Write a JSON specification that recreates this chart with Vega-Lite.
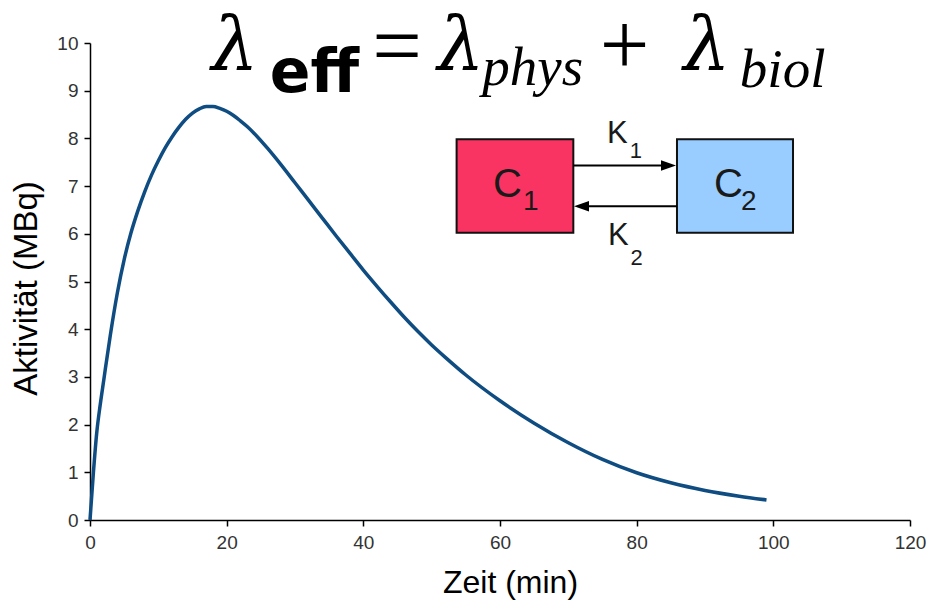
{
  "$schema": "https://vega.github.io/schema/vega-lite/v6.json",
  "width": 820,
  "height": 477,
  "autosize": {"type": "none"},
  "padding": {"left": 90, "top": 43, "right": 18, "bottom": 83},
  "background": "white",
  "config": {
    "view": {"stroke": null},
    "axis": {
      "grid": false,
      "domainColor": "#000000",
      "domainWidth": 1.5,
      "tickColor": "#000000",
      "tickWidth": 1.5,
      "tickSize": 6,
      "labelFont": "Liberation Sans",
      "labelFontSize": 19,
      "labelColor": "#333333",
      "labelFlush": false,
      "titleFont": "Liberation Sans",
      "titleFontWeight": "normal",
      "titleColor": "#000000"
    }
  },
  "datasets": {
    "curve": [
      {"t": 0, "v": 0},
      {"t": 0.5, "v": 1.0},
      {"t": 1, "v": 1.85},
      {"t": 1.5, "v": 2.42},
      {"t": 2, "v": 2.92},
      {"t": 3, "v": 3.9},
      {"t": 4, "v": 4.76},
      {"t": 5, "v": 5.46},
      {"t": 6, "v": 6.02},
      {"t": 7, "v": 6.48},
      {"t": 8, "v": 6.88},
      {"t": 9, "v": 7.23},
      {"t": 10, "v": 7.53},
      {"t": 11, "v": 7.8},
      {"t": 12, "v": 8.03},
      {"t": 13, "v": 8.23},
      {"t": 14, "v": 8.4},
      {"t": 15, "v": 8.53},
      {"t": 16, "v": 8.62},
      {"t": 17, "v": 8.67},
      {"t": 18, "v": 8.67},
      {"t": 19, "v": 8.63},
      {"t": 20, "v": 8.57},
      {"t": 21, "v": 8.48},
      {"t": 22, "v": 8.37},
      {"t": 23, "v": 8.25},
      {"t": 24, "v": 8.11},
      {"t": 26, "v": 7.79},
      {"t": 28, "v": 7.44},
      {"t": 30, "v": 7.07},
      {"t": 32, "v": 6.7},
      {"t": 34, "v": 6.33},
      {"t": 36, "v": 5.96},
      {"t": 38, "v": 5.6},
      {"t": 40, "v": 5.24},
      {"t": 42, "v": 4.9},
      {"t": 44, "v": 4.57},
      {"t": 46, "v": 4.25},
      {"t": 48, "v": 3.95},
      {"t": 50, "v": 3.67},
      {"t": 52, "v": 3.41},
      {"t": 55, "v": 3.04},
      {"t": 60, "v": 2.5},
      {"t": 65, "v": 2.03},
      {"t": 70, "v": 1.62},
      {"t": 75, "v": 1.27},
      {"t": 80, "v": 0.99},
      {"t": 85, "v": 0.78},
      {"t": 90, "v": 0.62},
      {"t": 95, "v": 0.5},
      {"t": 99, "v": 0.42}
    ],
    "boxes": [
      {"name": "C1", "t0": 53.65, "t1": 70.73, "v0": 6.02, "v1": 7.98},
      {"name": "C2", "t0": 85.9, "t1": 102.88, "v0": 6.02, "v1": 7.98}
    ],
    "arrows": [
      {"name": "K1", "t0": 70.73, "t1": 84.0, "v": 7.43},
      {"name": "K2", "t0": 72.5, "t1": 85.9, "v": 6.58}
    ],
    "heads": [
      {"dir": "right", "t": 84.66, "v": 7.43},
      {"dir": "left", "t": 71.93, "v": 6.58}
    ],
    "labels": [
      {"role": "lambda", "text": "λ", "t": 21.2, "v": 9.43},
      {"role": "lambda", "text": "λ", "t": 54.3, "v": 9.43},
      {"role": "lambda", "text": "λ", "t": 90.3, "v": 9.43},
      {"role": "eff", "text": "eff", "t": 26.3, "v": 8.97},
      {"role": "op", "text": "=", "t": 41.3, "v": 9.87},
      {"role": "op", "text": "+", "t": 74.6, "v": 9.9},
      {"role": "italicsub", "text": "phys", "t": 57.4, "v": 9.12},
      {"role": "italicsub", "text": "biol", "t": 95.1, "v": 9.08},
      {"role": "C", "text": "C", "t": 58.97, "v": 6.77},
      {"role": "C", "text": "C", "t": 91.3, "v": 6.77},
      {"role": "Csub", "text": "1", "t": 64.5, "v": 6.5},
      {"role": "Csub", "text": "2", "t": 96.4, "v": 6.5},
      {"role": "K", "text": "K", "t": 75.66, "v": 7.9},
      {"role": "K", "text": "K", "t": 75.8, "v": 5.77},
      {"role": "Ksub", "text": "1", "t": 79.9, "v": 7.59},
      {"role": "Ksub", "text": "2", "t": 80.0, "v": 5.35}
    ]
  },
  "layer": [
    {
      "data": {"name": "curve"},
      "mark": {"type": "line", "color": "#0F4C81", "strokeWidth": 3.5, "interpolate": "monotone"},
      "encoding": {
        "x": {"field": "t", "type": "quantitative", "scale": {"domain": [0, 120], "nice": false},
          "axis": {"values": [0, 20, 40, 60, 80, 100, 120], "title": "Zeit (min)", "titleFontSize": 32, "labelFontSize": 19, "labelPadding": 7, "titleX": 420, "titleY": 72, "titleBaseline": "alphabetic", "titleAnchor": null}},
        "y": {"field": "v", "type": "quantitative", "scale": {"domain": [0, 10], "nice": false},
          "axis": {"values": [0, 1, 2, 3, 4, 5, 6, 7, 8, 9, 10], "title": "Aktivität (MBq)", "titleFontSize": 33, "labelFontSize": 19, "labelPadding": 6, "titleX": -54, "titleY": 245, "titleBaseline": "alphabetic", "titleAngle": -90}}
      }
    },
    {
      "data": {"name": "boxes"},
      "mark": {"type": "rect", "stroke": "#111111", "strokeWidth": 2},
      "encoding": {
        "x": {"field": "t0", "type": "quantitative"},
        "x2": {"field": "t1"},
        "y": {"field": "v0", "type": "quantitative"},
        "y2": {"field": "v1"},
        "fill": {"field": "name", "type": "nominal", "scale": {"domain": ["C1", "C2"], "range": ["#FA3462", "#99CCFF"]}, "legend": null}
      }
    },
    {
      "data": {"name": "arrows"},
      "mark": {"type": "rule", "color": "#000000", "strokeWidth": 2},
      "encoding": {
        "x": {"field": "t0", "type": "quantitative"},
        "x2": {"field": "t1"},
        "y": {"field": "v", "type": "quantitative"}
      }
    },
    {
      "data": {"name": "heads"},
      "transform": [{"filter": "datum.dir === 'right'"}],
      "mark": {"type": "point", "shape": "M 1 0 L -1 -0.7 L -1 0.7 Z", "size": 225, "filled": true, "color": "#000000", "opacity": 1},
      "encoding": {
        "x": {"field": "t", "type": "quantitative"},
        "y": {"field": "v", "type": "quantitative"}
      }
    },
    {
      "data": {"name": "heads"},
      "transform": [{"filter": "datum.dir === 'left'"}],
      "mark": {"type": "point", "shape": "M -1 0 L 1 -0.7 L 1 0.7 Z", "size": 225, "filled": true, "color": "#000000", "opacity": 1},
      "encoding": {
        "x": {"field": "t", "type": "quantitative"},
        "y": {"field": "v", "type": "quantitative"}
      }
    },
    {
      "data": {"name": "labels"},
      "transform": [{"filter": "datum.role === 'lambda'"}],
      "mark": {"type": "text", "font": "DejaVu Serif", "fontStyle": "italic", "fontSize": 74, "align": "center", "baseline": "alphabetic", "color": "#000000"},
      "encoding": {"x": {"field": "t", "type": "quantitative"}, "y": {"field": "v", "type": "quantitative"}, "text": {"field": "text"}}
    },
    {
      "data": {"name": "labels"},
      "transform": [{"filter": "datum.role === 'eff'"}],
      "mark": {"type": "text", "font": "DejaVu Sans", "fontWeight": "bold", "fontSize": 60, "align": "left", "baseline": "alphabetic", "color": "#000000"},
      "encoding": {"x": {"field": "t", "type": "quantitative"}, "y": {"field": "v", "type": "quantitative"}, "text": {"field": "text"}}
    },
    {
      "data": {"name": "labels"},
      "transform": [{"filter": "datum.role === 'op'"}],
      "mark": {"type": "text", "font": "Liberation Serif", "fontSize": 88, "align": "left", "baseline": "middle", "color": "#000000"},
      "encoding": {"x": {"field": "t", "type": "quantitative"}, "y": {"field": "v", "type": "quantitative"}, "text": {"field": "text"}}
    },
    {
      "data": {"name": "labels"},
      "transform": [{"filter": "datum.role === 'italicsub'"}],
      "mark": {"type": "text", "font": "Liberation Serif", "fontStyle": "italic", "fontSize": 55, "align": "left", "baseline": "alphabetic", "color": "#000000"},
      "encoding": {"x": {"field": "t", "type": "quantitative"}, "y": {"field": "v", "type": "quantitative"}, "text": {"field": "text"}}
    },
    {
      "data": {"name": "labels"},
      "transform": [{"filter": "datum.role === 'C'"}],
      "mark": {"type": "text", "font": "Liberation Sans", "fontSize": 40, "align": "left", "baseline": "alphabetic", "color": "#1a1a1a"},
      "encoding": {"x": {"field": "t", "type": "quantitative"}, "y": {"field": "v", "type": "quantitative"}, "text": {"field": "text"}}
    },
    {
      "data": {"name": "labels"},
      "transform": [{"filter": "datum.role === 'Csub'"}],
      "mark": {"type": "text", "font": "Liberation Sans", "fontSize": 28, "align": "center", "baseline": "alphabetic", "color": "#1a1a1a"},
      "encoding": {"x": {"field": "t", "type": "quantitative"}, "y": {"field": "v", "type": "quantitative"}, "text": {"field": "text"}}
    },
    {
      "data": {"name": "labels"},
      "transform": [{"filter": "datum.role === 'K'"}],
      "mark": {"type": "text", "font": "Liberation Sans", "fontSize": 31, "align": "left", "baseline": "alphabetic", "color": "#1a1a1a"},
      "encoding": {"x": {"field": "t", "type": "quantitative"}, "y": {"field": "v", "type": "quantitative"}, "text": {"field": "text"}}
    },
    {
      "data": {"name": "labels"},
      "transform": [{"filter": "datum.role === 'Ksub'"}],
      "mark": {"type": "text", "font": "Liberation Sans", "fontSize": 22, "align": "center", "baseline": "alphabetic", "color": "#1a1a1a"},
      "encoding": {"x": {"field": "t", "type": "quantitative"}, "y": {"field": "v", "type": "quantitative"}, "text": {"field": "text"}}
    }
  ]
}
